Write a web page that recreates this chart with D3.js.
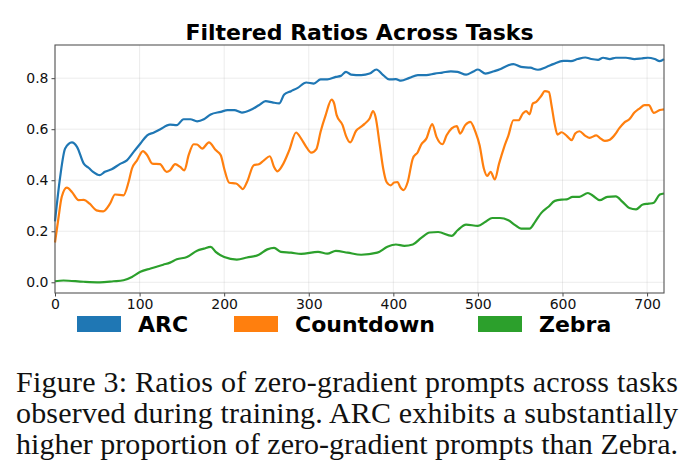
<!DOCTYPE html>
<html>
<head>
<meta charset="utf-8">
<script src="https://cdn.jsdelivr.net/npm/d3@7/dist/d3.min.js"></script>
<style>
  html, body { margin: 0; padding: 0; background: #fff; }
  svg { display: block; }
</style>
</head>
<body>
<svg id="chart" width="691" height="475"></svg>
<script>
const title = "Filtered Ratios Across Tasks";
const seriesNames = ["ARC", "Countdown", "Zebra"];
const seriesColors = ["#1f77b4", "#ff7f0e", "#2ca02c"];
const xTicks = [0, 100, 200, 300, 400, 500, 600, 700];
const yTicks = [0.0, 0.2, 0.4, 0.6, 0.8];
const captionLines = [
  "Figure 3: Ratios of zero-gradient prompts across tasks",
  "observed during training. ARC exhibits a substantially",
  "higher proportion of zero-gradient prompts than Zebra."
];

const arcSteps = [0,6,12,20,26,34,40,45,53,59,67,77,85,93,101,109,117,124,136,144,152,160,168,176,184,196,204,212,221,231,241,249,257,265,271,279,287,297,306,314,322,332,338,344,350,362,372,380,388,395,403,409,419,429,439,449,458,468,476,486,494,500,509,519,526,534,542,551,562,571,581,589,601,610,618,627,634,642,648,656,663,675,685,693,701,709,715,720];
const arcValues = [0.239,0.41,0.524,0.548,0.531,0.465,0.448,0.433,0.42,0.433,0.443,0.464,0.478,0.511,0.544,0.576,0.587,0.599,0.618,0.616,0.639,0.639,0.631,0.639,0.658,0.668,0.675,0.675,0.665,0.675,0.694,0.71,0.705,0.701,0.736,0.749,0.762,0.783,0.779,0.795,0.795,0.805,0.809,0.825,0.814,0.812,0.818,0.834,0.812,0.795,0.796,0.79,0.801,0.812,0.812,0.818,0.822,0.827,0.825,0.814,0.825,0.834,0.818,0.827,0.835,0.848,0.855,0.844,0.841,0.833,0.844,0.855,0.868,0.867,0.875,0.881,0.875,0.872,0.88,0.875,0.88,0.88,0.875,0.877,0.88,0.875,0.867,0.875];

const countdownSteps = [0,4,8,14,20,28,34,41,49,57,65,71,81,87,91,97,104,109,115,124,132,136,142,148,153,158,164,168,174,182,190,196,200,206,214,219,222,227,235,241,247,254,259,263,269,277,285,291,297,303,309,314,320,327,330,333,340,344,349,356,362,366,372,376,379,384,388,392,397,401,405,408,412,417,423,429,433,439,446,451,458,463,469,475,479,485,491,497,502,507,511,515,520,525,531,536,542,548,553,557,561,565,569,575,579,584,587,591,594,599,605,611,615,620,627,632,640,644,650,656,662,667,673,679,685,691,697,702,708,715,720];
const countdownValues = [0.156,0.25,0.335,0.371,0.354,0.322,0.323,0.308,0.282,0.278,0.308,0.344,0.341,0.393,0.446,0.478,0.514,0.498,0.465,0.463,0.433,0.439,0.463,0.452,0.439,0.498,0.541,0.54,0.524,0.548,0.518,0.498,0.446,0.39,0.387,0.374,0.365,0.393,0.459,0.463,0.478,0.494,0.452,0.435,0.459,0.518,0.587,0.563,0.531,0.508,0.522,0.59,0.655,0.716,0.701,0.655,0.616,0.574,0.548,0.594,0.61,0.621,0.642,0.671,0.648,0.537,0.446,0.393,0.38,0.391,0.393,0.374,0.361,0.393,0.485,0.511,0.54,0.563,0.62,0.57,0.541,0.576,0.603,0.612,0.583,0.616,0.629,0.59,0.537,0.446,0.417,0.433,0.403,0.465,0.53,0.575,0.635,0.635,0.661,0.671,0.658,0.701,0.707,0.731,0.749,0.746,0.694,0.616,0.579,0.588,0.574,0.557,0.583,0.592,0.574,0.566,0.576,0.566,0.554,0.559,0.579,0.603,0.626,0.639,0.665,0.681,0.694,0.694,0.664,0.675,0.678];

const zebraSteps = [0,10,34,53,69,81,91,101,113,128,136,144,156,168,176,184,190,200,215,227,241,251,259,267,279,291,311,322,332,346,362,381,393,403,413,423,433,443,453,469,476,486,500,509,517,526,536,544,551,561,568,575,583,591,599,605,612,620,630,636,644,653,663,671,679,687,695,702,708,715,720];
const zebraValues = [0.004,0.007,0.002,0.0,0.004,0.008,0.021,0.041,0.054,0.069,0.077,0.09,0.099,0.124,0.132,0.139,0.119,0.099,0.089,0.097,0.108,0.129,0.135,0.119,0.116,0.111,0.119,0.112,0.123,0.116,0.108,0.116,0.139,0.148,0.143,0.148,0.174,0.195,0.197,0.182,0.204,0.226,0.221,0.237,0.252,0.252,0.243,0.224,0.21,0.21,0.239,0.272,0.295,0.319,0.324,0.325,0.335,0.335,0.35,0.339,0.322,0.335,0.337,0.315,0.291,0.286,0.305,0.308,0.312,0.344,0.348];

const series = [
  { name: seriesNames[0], color: seriesColors[0], xs: arcSteps, ys: arcValues },
  { name: seriesNames[1], color: seriesColors[1], xs: countdownSteps, ys: countdownValues },
  { name: seriesNames[2], color: seriesColors[2], xs: zebraSteps, ys: zebraValues }
];

const svg = d3.select("#chart");
const m = { left: 55, right: 664, top: 45, bottom: 293 };

const x = d3.scaleLinear().domain([0, 720]).range([m.left, m.right]);
const y = d3.scaleLinear().domain([-0.042, 0.93]).range([m.bottom, m.top]);

// grid
const grid = svg.append("g");
grid.selectAll(".gx").data(xTicks).join("line")
  .attr("x1", d => x(d)).attr("x2", d => x(d))
  .attr("y1", m.top).attr("y2", m.bottom)
  .attr("stroke", "#b0b0b0").attr("stroke-opacity", 0.3).attr("stroke-width", 0.8);
grid.selectAll(".gy").data(yTicks).join("line")
  .attr("x1", m.left).attr("x2", m.right)
  .attr("y1", d => y(d)).attr("y2", d => y(d))
  .attr("stroke", "#b0b0b0").attr("stroke-opacity", 0.3).attr("stroke-width", 0.8);

// lines
const line = d3.line().x(d => x(d[0])).y(d => y(d[1])).curve(d3.curveMonotoneX);
series.forEach(s => {
  svg.append("path")
    .datum(s.xs.map((v, i) => [v, s.ys[i]]))
    .attr("d", line)
    .attr("fill", "none")
    .attr("stroke", s.color)
    .attr("stroke-width", 2.2)
    .attr("stroke-linejoin", "round");
});

// axes
const xAxis = d3.axisBottom(x).tickValues(xTicks).tickFormat(d3.format("d")).tickSize(3.5).tickPadding(3);
const yAxis = d3.axisLeft(y).tickValues(yTicks).tickFormat(d3.format(".1f")).tickSize(3.5).tickPadding(3);
const gx = svg.append("g").attr("transform", `translate(0,${m.bottom})`).call(xAxis);
const gy = svg.append("g").attr("transform", `translate(${m.left},0)`).call(yAxis);
[gx, gy].forEach(g => {
  g.select(".domain").remove();
  g.selectAll(".tick line").attr("stroke", "#333").attr("stroke-width", 0.9);
  g.selectAll(".tick text").attr("fill", "#111")
    .style("font-family", "'DejaVu Sans', sans-serif").style("font-size", "14px");
});

// frame
svg.append("rect")
  .attr("x", m.left).attr("y", m.top)
  .attr("width", m.right - m.left).attr("height", m.bottom - m.top)
  .attr("fill", "none").attr("stroke", "#555").attr("stroke-width", 1.1);

// title
svg.append("text")
  .attr("x", (m.left + m.right) / 2).attr("y", 40)
  .attr("text-anchor", "middle")
  .style("font-family", "'DejaVu Sans', sans-serif")
  .style("font-weight", "bold").style("font-size", "22px")
  .text(title);

// legend
const legendX = [77, 234, 478];
const leg = svg.append("g");
series.forEach((s, i) => {
  leg.append("rect")
    .attr("x", legendX[i]).attr("y", 316)
    .attr("width", 44).attr("height", 16)
    .attr("fill", s.color);
  leg.append("text")
    .attr("x", legendX[i] + 61).attr("y", 332)
    .style("font-family", "'DejaVu Sans', sans-serif")
    .style("font-weight", "bold").style("font-size", "22px")
    .attr("fill", "#000")
    .text(s.name);
});

// caption
const capBase = [392, 423, 454];
captionLines.forEach((t, i) => {
  svg.append("text")
    .attr("x", 16).attr("y", capBase[i])
    .attr("textLength", 662).attr("lengthAdjust", "spacing")
    .style("font-family", "'Liberation Serif', 'Times New Roman', serif")
    .style("font-size", "30px")
    .attr("fill", "#111")
    .text(t);
});
</script>
</body>
</html>
